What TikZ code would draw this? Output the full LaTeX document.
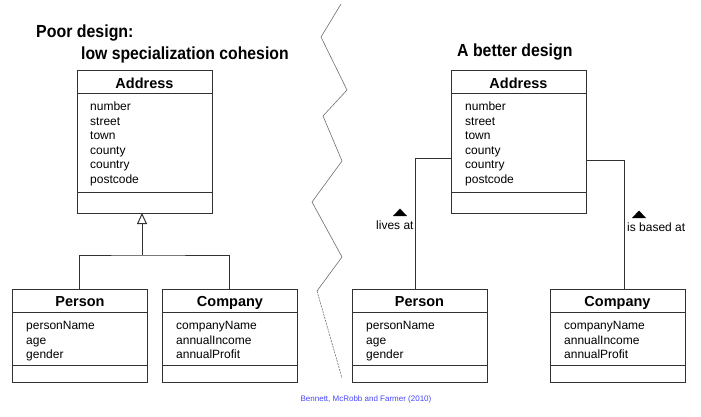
\documentclass[tikz,border=0pt]{standalone}
\usepackage{fontspec}
\setmainfont{Liberation Sans}
\usetikzlibrary{arrows.meta,calc}
\definecolor{linegray}{RGB}{50,50,50}
\definecolor{zigzag}{RGB}{110,110,110}
\definecolor{refblue}{RGB}{70,70,255}
\tikzset{
  classbox/.style={draw=linegray, line width=1pt, anchor=north west, inner sep=0pt,
    minimum width=135pt, minimum height=#1},
  divider/.style={draw=linegray, line width=1pt},
  classtitle/.style={anchor=base, inner sep=0pt, font=\fontsize{14.5}{17}\selectfont\bfseries},
  attr/.style={anchor=base west, inner sep=0pt, font=\fontsize{12}{14}\selectfont},
  heading/.style={anchor=base west, inner sep=0pt, font=\fontsize{17.5}{20}\selectfont\bfseries},
  assoc/.style={draw=linegray, line width=1pt},
  lbl/.style={anchor=base west, inner sep=0pt, font=\fontsize{12}{14}\selectfont},
}
\begin{document}
\begin{tikzpicture}[x=1pt,y=-1pt]
\useasboundingbox (0,0) rectangle (701,416);

% headings
\node[heading] (h1) at (36,37.5) {\scalebox{0.91}[1]{Poor design:}};
\node[heading] (h2) at (81,59) {\scalebox{0.9}[1]{low specialization cohesion}};
\node[heading] (h3) at (457,56.5) {\scalebox{0.905}[1]{A better design}};

% zigzag divider
\draw[zigzag, line width=0.6pt] (341,4) -- (321,37) -- (347,90) -- (323,116) -- (342,161)
  -- (312,202) -- (342,257) -- (317,291);
\draw[zigzag, line width=0.6pt, dash pattern=on 2pt off 1pt] (317,291) -- (342,378);

% ---------- left: poor design ----------
\node[classbox=143pt] (aL) at (77,70) {};
\draw[divider] ($(aL.north west)+(0,23)$) -- ($(aL.north east)+(0,23)$);
\draw[divider] ($(aL.north west)+(0,122)$) -- ($(aL.north east)+(0,122)$);
\node[classtitle] (aLt) at (144.5,88) {Address};
\foreach \t [count=\i] in {number,street,town,county,country,postcode}
  \node[attr] (aLa\i) at (90,{110.5+14.5*(\i-1)}) {\t};

\node[classbox=93pt] (pL) at (12,289) {};
\draw[divider] ($(pL.north west)+(0,23)$) -- ($(pL.north east)+(0,23)$);
\draw[divider] ($(pL.north west)+(0,76)$) -- ($(pL.north east)+(0,76)$);
\node[classtitle] (pLt) at (80,306) {Person};
\foreach \t [count=\i] in {personName,age,gender}
  \node[attr] (pLa\i) at (26,{329.5+14.5*(\i-1)}) {\t};

\node[classbox=93pt] (cL) at (162,289) {};
\draw[divider] ($(cL.north west)+(0,23)$) -- ($(cL.north east)+(0,23)$);
\draw[divider] ($(cL.north west)+(0,76)$) -- ($(cL.north east)+(0,76)$);
\node[classtitle] (cLt) at (230,306) {Company};
\foreach \t [count=\i] in {companyName,annualIncome,annualProfit}
  \node[attr] (cLa\i) at (176,{329.5+14.5*(\i-1)}) {\t};

% generalization
\coordinate (gj) at (142,255);
\coordinate (gtip) at (142,213);
\draw[assoc] ($(pL.north west)+(67,0)$) |- (gj) -| ($(cL.north west)+(67,0)$);
\draw[assoc, -{Triangle[open,length=11pt,width=10pt,line width=1pt]}] (gj) -- (gtip);

% ---------- right: better design ----------
\node[classbox=143pt] (aR) at (451,70) {};
\draw[divider] ($(aR.north west)+(0,23)$) -- ($(aR.north east)+(0,23)$);
\draw[divider] ($(aR.north west)+(0,122)$) -- ($(aR.north east)+(0,122)$);
\node[classtitle] (aRt) at (518.5,88) {Address};
\foreach \t [count=\i] in {number,street,town,county,country,postcode}
  \node[attr] (aRa\i) at (465,{110.5+14.5*(\i-1)}) {\t};

\node[classbox=93pt] (pR) at (352,289) {};
\draw[divider] ($(pR.north west)+(0,23)$) -- ($(pR.north east)+(0,23)$);
\draw[divider] ($(pR.north west)+(0,76)$) -- ($(pR.north east)+(0,76)$);
\node[classtitle] (pRt) at (419.5,306) {Person};
\foreach \t [count=\i] in {personName,age,gender}
  \node[attr] (pRa\i) at (366,{329.5+14.5*(\i-1)}) {\t};

\node[classbox=93pt] (cR) at (550,289) {};
\draw[divider] ($(cR.north west)+(0,23)$) -- ($(cR.north east)+(0,23)$);
\draw[divider] ($(cR.north west)+(0,76)$) -- ($(cR.north east)+(0,76)$);
\node[classtitle] (cRt) at (617.5,306) {Company};
\foreach \t [count=\i] in {companyName,annualIncome,annualProfit}
  \node[attr] (cRa\i) at (564,{329.5+14.5*(\i-1)}) {\t};

% associations
\draw[assoc] ($(aR.north west)+(0,88)$) -| ($(pR.north west)+(63,0)$);
\draw[assoc] ($(aR.north east)+(0,90)$) -| ($(cR.north west)+(74,0)$);

% association labels with direction triangles
\fill[black] (393,216) -- (407,216) -- (400,208.5) -- cycle;
\node[lbl] (lv) at (376,229.5) {lives at};
\fill[black] (632,218) -- (646,218) -- (639,210.5) -- cycle;
\node[lbl] (ba) at (627,231.5) {is based at};

% source
\node[anchor=base, inner sep=0pt, font=\fontsize{8}{9}\selectfont, text=refblue] (src) at (366,401) {Bennett, McRobb and Farmer (2010)};
\end{tikzpicture}
\end{document}
